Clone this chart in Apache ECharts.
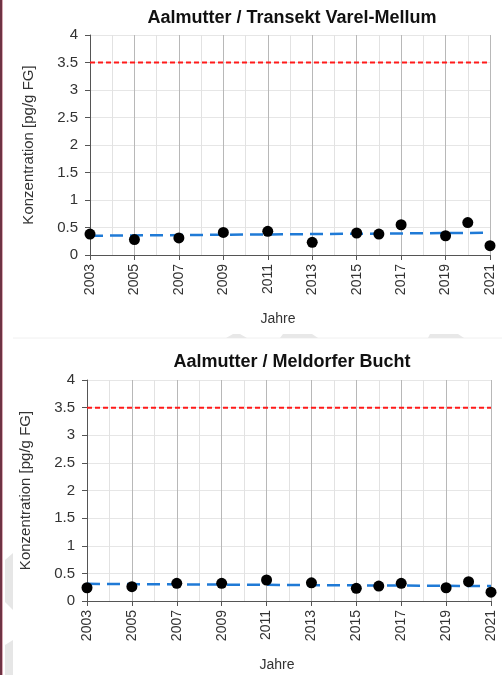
<!DOCTYPE html>
<html><head><meta charset="utf-8">
<script src="https://cdn.jsdelivr.net/npm/echarts@6/dist/echarts.min.js"></script>
<style>html,body{margin:0;padding:0;background:#fff}#c{width:502px;height:675px}</style>
</head><body><div id="c"></div>
<script>
const titles = ['Aalmutter / Transekt Varel-Mellum', 'Aalmutter / Meldorfer Bucht'];
const years = [2003, 2005, 2007, 2009, 2011, 2013, 2015, 2016, 2017, 2019, 2020, 2021];
const valuesVarel = [0.38, 0.28, 0.31, 0.41, 0.43, 0.23, 0.40, 0.38, 0.55, 0.35, 0.59, 0.17];
const valuesMeldorf = [0.24, 0.26, 0.32, 0.32, 0.38, 0.33, 0.23, 0.27, 0.32, 0.24, 0.35, 0.16];
const trendYears = [2003, 2021];
const trendVarel = [0.35, 0.405];
const trendMeldorf = [0.31, 0.27];
const limitValue = 3.5;
const yTicks = [0, 0.5, 1, 1.5, 2, 2.5, 3, 3.5, 4];
const xName = 'Jahre';
const yName = 'Konzentration [pg/g FG]';

const chart = echarts.init(document.getElementById('c'), null, {renderer: 'canvas'});
const font = 'Liberation Sans, Arial, sans-serif';
const grids = [
  {left: 90, right: 12, top: 35, height: 220},
  {left: 87, right: 11, top: 380, height: 221}
];
function xAxis(i) {
  return {
    gridIndex: i, type: 'value', min: trendYears[0], max: trendYears[1], interval: 2,
    axisLine: {show: true, lineStyle: {color: '#555', width: 1}},
    axisTick: {show: true, length: 5, lineStyle: {color: '#555'}},
    axisLabel: {rotate: 90, color: '#333', fontSize: 14, fontFamily: font, margin: 9, formatter: v => String(v)},
    splitLine: {show: true, lineStyle: {color: '#b8b8b8', width: 1}},
    minorTick: {show: false, splitNumber: 2},
    minorSplitLine: {show: true, lineStyle: {color: '#e2e2e2', width: 1}},
    name: xName, nameLocation: 'middle', nameGap: 57,
    nameTextStyle: {color: '#333', fontSize: 14, fontFamily: font, padding: [0, 24, 0, 0]}
  };
}
function yAxis(i) {
  return {
    gridIndex: i, type: 'value', min: yTicks[0], max: yTicks[yTicks.length - 1], interval: 0.5,
    axisLine: {show: true, lineStyle: {color: '#555', width: 1}},
    axisTick: {show: true, length: 5, lineStyle: {color: '#555'}},
    axisLabel: {color: '#333', fontSize: 15, fontFamily: font, margin: 12},
    splitLine: {show: true, lineStyle: {color: '#e6e6e6', width: 1}},
    name: yName, nameLocation: 'middle', nameGap: 54, nameRotate: 90,
    nameTextStyle: {color: '#333', fontSize: 15, fontFamily: font}
  };
}
const datasets = [valuesVarel, valuesMeldorf];
const trends = [trendVarel, trendMeldorf];
const series = [];
for (let i = 0; i < 2; i++) {
  series.push({
    type: 'line', xAxisIndex: i, yAxisIndex: i, symbol: 'none', silent: true,
    data: trendYears.map(y => [y, limitValue]),
    lineStyle: {color: '#ff1a1a', width: 2, type: [5, 3]}, z: 3
  });
  series.push({
    type: 'line', xAxisIndex: i, yAxisIndex: i, symbol: 'none', silent: true,
    data: trendYears.map((y, k) => [y, trends[i][k]]),
    lineStyle: {color: '#1f7ad6', width: 2.5, type: [13, 7]}, z: 3
  });
  series.push({
    type: 'scatter', xAxisIndex: i, yAxisIndex: i, symbolSize: 11,
    itemStyle: {color: '#000', opacity: 1},
    data: years.map((y, k) => [y, datasets[i][k]]), z: 4
  });
}
chart.setOption({
  backgroundColor: '#fff',
  animation: false,
  title: [
    {text: titles[0], left: 287, top: 4, textAlign: 'center',
     textStyle: {fontSize: 18, fontWeight: 'bold', color: '#111', fontFamily: font}},
    {text: titles[1], left: 287, top: 348, textAlign: 'center',
     textStyle: {fontSize: 18, fontWeight: 'bold', color: '#111', fontFamily: font}}
  ],
  grid: grids,
  xAxis: [xAxis(0), xAxis(1)],
  yAxis: [yAxis(0), yAxis(1)],
  series: series,
  graphic: [
    {type: 'rect', shape: {x: 0, y: 0, width: 2, height: 675}, style: {fill: '#6e3344'}, silent: true},
    {type: 'rect', shape: {x: 2, y: 0, width: 1, height: 675}, style: {fill: '#d9aab4'}, silent: true},
    {type: 'line', shape: {x1: 13, y1: 338, x2: 502, y2: 338}, style: {stroke: '#f0f0f0', lineWidth: 1}, silent: true},
    {type: 'polygon', shape: {points: [[226,338],[233,334],[240,334],[247,338]]}, style: {fill: '#e8e8e8'}, silent: true},
    {type: 'polygon', shape: {points: [[280,338],[283,334],[312,334],[318,338]]}, style: {fill: '#e8e8e8'}, silent: true},
    {type: 'polygon', shape: {points: [[428,338],[430,334],[458,334],[464,338]]}, style: {fill: '#e8e8e8'}, silent: true},
    {type: 'polygon', shape: {points: [[5,560],[13,553],[13,610],[5,602]]}, style: {fill: '#e6e6e6'}, silent: true},
    {type: 'polygon', shape: {points: [[5,645],[13,640],[13,675],[5,675]]}, style: {fill: '#e6e6e6'}, silent: true}
  ]
});
</script></body></html>
